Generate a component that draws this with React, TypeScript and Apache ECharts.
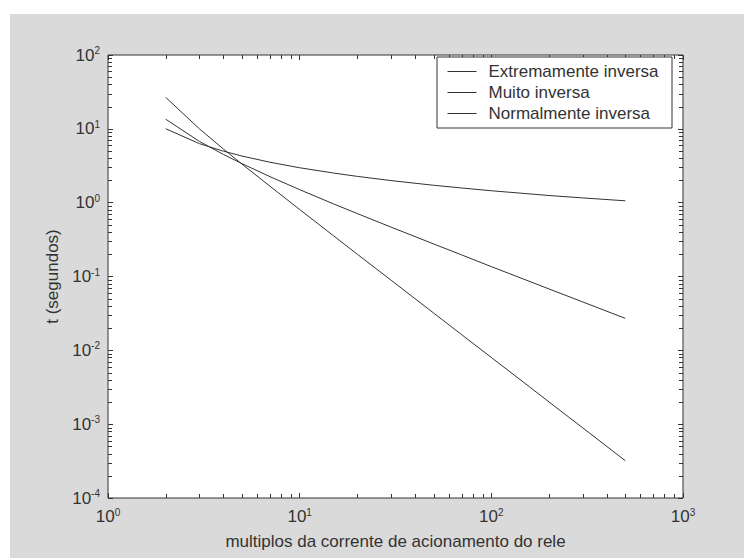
import React, { useEffect, useRef } from "react";
import * as echarts from "echarts";

// current multiples (x) and trip times in seconds (y)
const multiples = [2, 3, 4, 5, 7, 10, 15, 20, 30, 50, 70, 100, 150, 200, 300, 500];
const extremamente = [26.7, 10.0, 5.33, 3.33, 1.67, 0.808, 0.357, 0.2, 0.089, 0.032, 0.0163, 0.008, 0.00356, 0.002, 0.00089, 0.00032];
const muito = [13.5, 6.75, 4.5, 3.38, 2.25, 1.5, 0.964, 0.711, 0.466, 0.276, 0.196, 0.136, 0.0906, 0.0678, 0.0452, 0.0271];
const normalmente = [10.03, 6.3, 4.98, 4.28, 3.53, 2.97, 2.52, 2.27, 1.99, 1.72, 1.58, 1.45, 1.33, 1.25, 1.16, 1.06];

const seriesNames = ["Extremamente inversa", "Muito inversa", "Normalmente inversa"];
const xRange = [1, 1000];
const yRange = [1e-4, 1e2];
const xDecades = [1, 10, 100];
const yDecades = [1e-4, 1e-3, 1e-2, 1e-1, 1, 10];
const minorSteps = [2, 3, 4, 5, 6, 7, 8, 9];
const xLabel = "multiplos da corrente de acionamento do rele";
const yLabel = "t (segundos)";

const FONT = "Liberation Sans";
const INK = "#333333";

const powLabel = (v: number) => {
  const e = Math.round(Math.log10(v));
  return `{b|10}{s|${e}}`;
};

const richLabel = {
  b: { fontSize: 17, fontFamily: FONT, color: INK },
  s: { fontSize: 10, fontFamily: FONT, color: INK, verticalAlign: "top" as const, padding: [0, 0, 9, 0] },
};

export default function App() {
  const ref = useRef<HTMLDivElement>(null);

  useEffect(() => {
    if (!ref.current) return;
    const chart = echarts.init(ref.current, undefined, { renderer: "svg" });

    const minorData: number[][] = [
      ...xDecades.flatMap((d) => minorSteps.map((s) => [d * s, 1, 0])),
      ...yDecades.flatMap((d) => minorSteps.map((s) => [10, d * s, 1])),
    ];

    const lineSeries = [extremamente, muito, normalmente].map((vals, k) => ({
      name: seriesNames[k],
      type: "line" as const,
      xAxisIndex: 0,
      yAxisIndex: 0,
      symbol: "none",
      data: multiples.map((m, i) => [m, vals[i]]),
      lineStyle: { color: INK, width: 1 },
      itemStyle: { color: INK },
      z: 3,
    }));

    const axisBase = {
      type: "log" as const,
      logBase: 10,
      axisLine: { show: false },
      splitLine: { show: false },
      axisTick: { show: true, inside: true, length: 5, lineStyle: { color: INK } },
    };

    chart.setOption({
      animation: false,
      backgroundColor: "#ffffff",
      textStyle: { fontFamily: FONT },
      graphic: [
        {
          type: "rect",
          z: -10,
          silent: true,
          shape: { x: 10, y: 14, width: 734, height: 544 },
          style: { fill: "#dadada" },
        },
        {
          type: "rect",
          z: 4,
          silent: true,
          shape: { x: 437, y: 57, width: 235, height: 71 },
          style: { fill: "#ffffff", stroke: INK, lineWidth: 1 },
        },
      ],
      grid: {
        left: 108,
        top: 55,
        width: 575,
        height: 443,
        show: true,
        backgroundColor: "#ffffff",
        borderColor: INK,
        borderWidth: 1,
      },
      legend: {
        data: seriesNames,
        orient: "vertical",
        left: 447,
        top: 63,
        z: 5,
        itemWidth: 29,
        itemHeight: 14,
        itemGap: 4,
        padding: 0,
        itemStyle: { opacity: 0 },
        lineStyle: { color: INK, width: 1 },
        textStyle: { fontSize: 17, fontFamily: FONT, color: INK, padding: [0, 0, 0, 7] },
      },
      xAxis: [
        {
          ...axisBase,
          position: "bottom",
          min: xRange[0],
          max: xRange[1],
          name: xLabel,
          nameLocation: "middle",
          nameGap: 35,
          nameTextStyle: { fontSize: 17, fontFamily: FONT, color: INK },
          axisLabel: { formatter: powLabel, rich: richLabel, margin: 9 },
        },
        {
          ...axisBase,
          position: "top",
          min: xRange[0],
          max: xRange[1],
          axisLabel: { show: false },
        },
      ],
      yAxis: [
        {
          ...axisBase,
          position: "left",
          min: yRange[0],
          max: yRange[1],
          name: yLabel,
          nameLocation: "middle",
          nameGap: 42,
          nameTextStyle: { fontSize: 17, fontFamily: FONT, color: INK },
          axisLabel: { formatter: powLabel, rich: richLabel, margin: 8 },
        },
        {
          ...axisBase,
          position: "right",
          min: yRange[0],
          max: yRange[1],
          axisLabel: { show: false },
        },
      ],
      series: [
        ...lineSeries,
        {
          type: "custom",
          name: "minorTicks",
          xAxisIndex: 0,
          yAxisIndex: 0,
          silent: true,
          z: 2,
          encode: { x: 0, y: 1 },
          data: minorData,
          renderItem: (params: any, api: any) => {
            const cs = params.coordSys;
            const side = api.value(2);
            const st = { stroke: INK, lineWidth: 1 };
            const L = 4;
            if (side === 0) {
              const px = Math.round(api.coord([api.value(0), 1])[0]) + 0.5;
              const yb = cs.y + cs.height;
              return {
                type: "group",
                children: [
                  { type: "line", shape: { x1: px, y1: yb, x2: px, y2: yb - L }, style: st },
                  { type: "line", shape: { x1: px, y1: cs.y, x2: px, y2: cs.y + L }, style: st },
                ],
              };
            }
            const py = Math.round(api.coord([10, api.value(1)])[1]) + 0.5;
            const xr = cs.x + cs.width;
            return {
              type: "group",
              children: [
                { type: "line", shape: { x1: cs.x, y1: py, x2: cs.x + L, y2: py }, style: st },
                { type: "line", shape: { x1: xr, y1: py, x2: xr - L, y2: py }, style: st },
              ],
            };
          },
        },
      ],
    });

    return () => chart.dispose();
  }, []);

  return (
    <div
      ref={ref}
      style={{ position: "fixed", left: 0, top: 0, width: 744, height: 558 }}
    />
  );
}
